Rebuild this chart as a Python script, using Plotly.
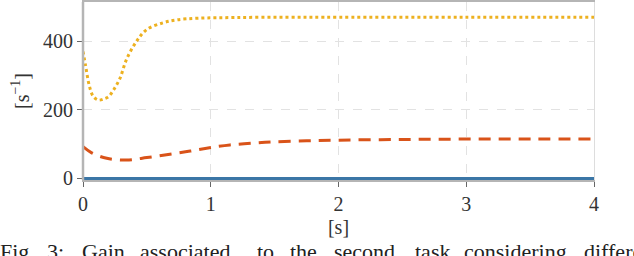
import plotly.graph_objects as go

t_yellow = [0.0, 0.02, 0.05, 0.08, 0.12, 0.16, 0.2, 0.24, 0.29, 0.34, 0.42, 0.5, 0.63, 0.73, 0.9, 1.2, 1.6, 2.0, 3.0, 4.0]
k_yellow = [371, 330, 270, 240, 229, 232, 239, 259, 293, 347, 401, 435, 455, 463, 468, 470, 471, 471, 471, 471]

t_orange = [0.0, 0.068, 0.186, 0.34, 0.5, 0.68, 0.84, 0.99, 1.15, 1.32, 1.49, 1.75, 2.0, 2.5, 3.0, 3.5, 4.0]
k_orange = [93, 75, 59, 54, 61, 71, 80, 90, 98, 103, 107, 110, 112, 114, 115, 115, 115]

t_blue = [0.0, 4.0]
k_blue = [0, 0]

x_ticks = [0, 1, 2, 3, 4]
y_ticks = [0, 200, 400]

caption_words = ["Fig.", "3:", "Gain", "associated", "to", "the", "second", "task",
                 "considering", "different"]
caption_word_px = [0, 47, 82, 140, 257, 290, 334, 415, 464, 584]  # justified layout positions

font_family = "Liberation Serif"
tick_font = dict(family=font_family, size=20, color="#333333")

L, R, T, B = 83, 40, 2, 76
W, H = 634, 256
pw, ph = W - L - R, H - T - B

fig = go.Figure()
fig.add_trace(go.Scatter(x=t_blue, y=k_blue, mode="lines",
                         line=dict(color="#3b76a6", width=3), showlegend=False))
fig.add_trace(go.Scatter(x=t_orange, y=k_orange, mode="lines",
                         line=dict(color="#d95319", width=3, dash="12px,8px", shape="spline"),
                         showlegend=False))
fig.add_trace(go.Scatter(x=t_yellow, y=k_yellow, mode="lines",
                         line=dict(color="#edb120", width=3, dash="3px,3px", shape="spline"),
                         showlegend=False))

fig.update_layout(
    width=W, height=H,
    margin=dict(l=L, r=R, t=T, b=B, autoexpand=False),
    paper_bgcolor="white", plot_bgcolor="white",
    font=dict(family=font_family, size=20, color="#333333"),
    xaxis=dict(range=[0, 4], tickvals=x_ticks, showgrid=True, gridcolor="#e2e2e2",
               griddash="dash", gridwidth=1, zeroline=False, automargin=False,
               ticks="outside", ticklen=5, tickcolor="#666666", tickfont=tick_font,
               showline=True, linecolor="#b5b5b5", linewidth=1.5, mirror=True,
               title=dict(text="[s]", standoff=6, font=tick_font)),
    yaxis=dict(range=[-4.4, 515.3], tickvals=y_ticks, showgrid=True, gridcolor="#e2e2e2",
               griddash="dash", gridwidth=1, zeroline=False, automargin=False,
               ticks="outside", ticklen=5, tickcolor="#666666", tickfont=tick_font,
               showline=True, linecolor="#dddddd", linewidth=1, mirror=True,
               title=dict(text="[s<sup>−1</sup>]", standoff=8, font=tick_font)),
)
# darker left axis line
fig.add_shape(type="line", xref="paper", yref="paper", x0=0, x1=0, y0=0, y1=1,
              line=dict(color="#b5b5b5", width=2.5))
for word, px in zip(caption_words, caption_word_px):
    fig.add_annotation(text=word, xref="paper", yref="paper", x=(px - L) / pw, y=-57 / ph,
                       xanchor="left", yanchor="top", showarrow=False, xshift=-2,
                       font=dict(family=font_family, size=22, color="#222222"))

fig.write_html("out.html", config={"displayModeBar": False},
               post_script="document.body.style.margin='0';document.body.style.overflow='hidden';")
